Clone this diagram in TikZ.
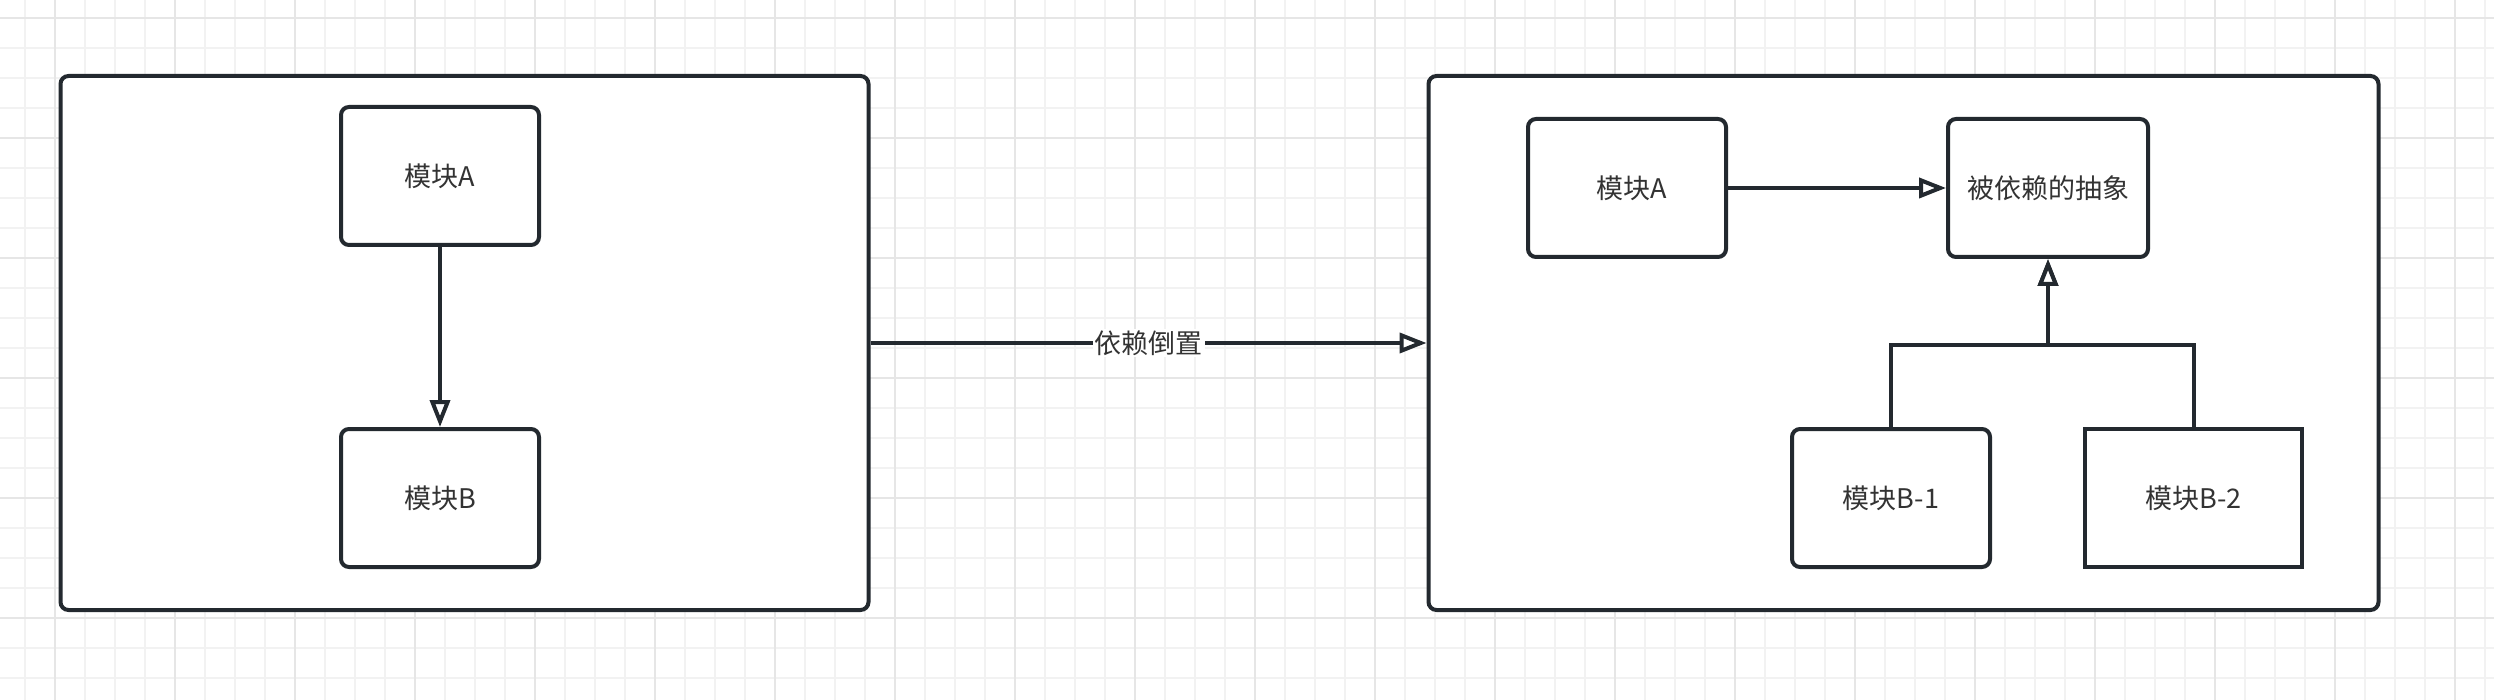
\documentclass[tikz,border=0pt]{standalone}
\usepackage{fontspec}
\setmainfont{Noto Sans CJK SC}
\usetikzlibrary{arrows.meta,calc,positioning}
\definecolor{dipInk}{HTML}{333333}
\definecolor{dipStroke}{HTML}{23292F}
\definecolor{dipGridMinor}{HTML}{F2F2F2}
\definecolor{dipGridMajor}{HTML}{E6E6E6}

\begin{document}
\begin{tikzpicture}[x=1pt,y=-1pt,
  font=\fontsize{27}{31}\selectfont,text=dipInk,
  dipframe/.style={draw=dipStroke,fill=white,line width=4pt,rounded corners=8pt,inner sep=0pt},
  dipmodule/.style={dipframe,minimum width=198pt,minimum height=138pt},
  diparrow/.style={draw=dipStroke,line width=4pt,
    -{Triangle[length=27pt,width=20pt,fill=white,line join=miter]}}]
  \fill[white] (0,0) rectangle (2494,700);
  \path[use as bounding box] (0,0) rectangle (2494,700);

  % background grid as in the editor canvas
  \foreach \x in {25,55,...,2494}
    {\draw[dipGridMinor,line width=1.2pt] (\x,0)--(\x,700);}
  \foreach \y in {18,48,...,700}
    {\draw[dipGridMinor,line width=1.2pt] (0,\y)--(2494,\y);}
  \foreach \x in {55,175,...,2494}
    {\draw[dipGridMajor,line width=1.5pt] (\x,0)--(\x,700);}
  \foreach \y in {18,138,...,700}
    {\draw[dipGridMajor,line width=1.5pt] (0,\y)--(2494,\y);}

  \node[dipframe,minimum width=808pt,minimum height=534pt] (before) at (464.5,343) {};
  \node[dipframe,minimum width=950pt,minimum height=534pt] (after) at (1903.5,343) {};

  \node[dipmodule] (modA) at (440,176) {模块A};
  \node[dipmodule] (modB) at (440,498) {模块B};
  \draw[diparrow] (modA)--(modB);

  \draw[diparrow] (before.east)--(after.west)
    node[midway,fill=white,inner sep=2pt] (invert) {依赖倒置};

  \node[dipmodule] (modA2) at (1627,188) {\hspace*{10pt}模块A};
  \node[dipmodule,minimum width=200pt] (abstr) at (2048,188) {被依赖的抽象};
  \node[dipmodule] (modB1) at (1891,498) {模块B-1};
  \node[dipmodule,minimum width=217pt,rounded corners=0pt] (modB2) at (2193.5,498) {模块B-2};
  \draw[diparrow] (modA2)--(abstr);

  % both implementations meet on one bus below the abstraction
  \coordinate (bus) at ($(abstr.south)+(0,86)$);
  \draw[diparrow,rounded corners=0pt] (modB1.north) |- (bus)--(abstr.south);
  \draw[diparrow,rounded corners=0pt] (modB2.north) |- (bus)--(abstr.south);
\end{tikzpicture}
\end{document}
